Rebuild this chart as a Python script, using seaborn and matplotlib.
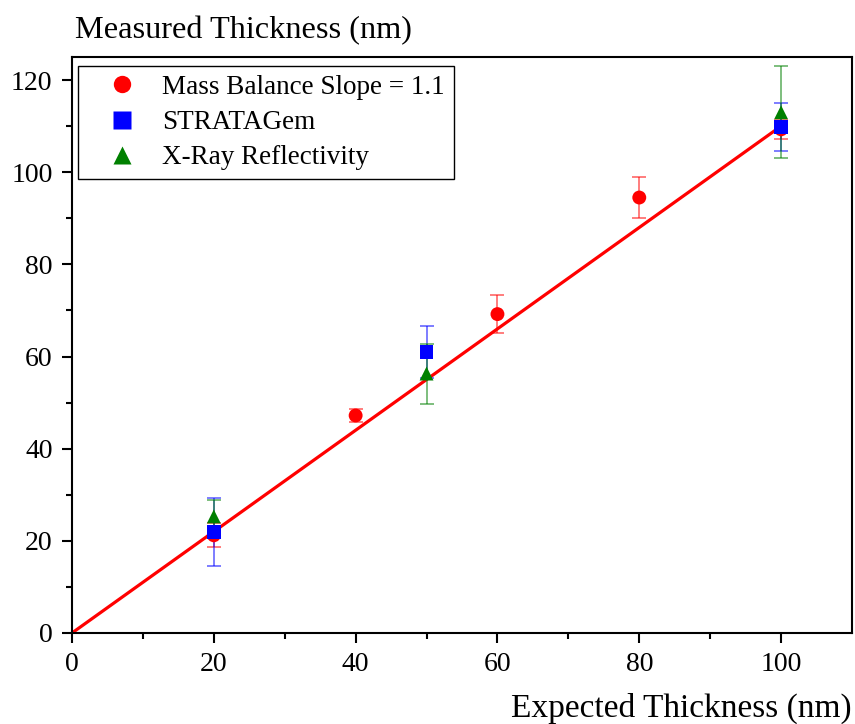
import matplotlib
matplotlib.use("Agg")
import matplotlib.pyplot as plt
import seaborn as sns
import pandas as pd
import numpy as np

# Data
mb_x = [20, 40, 60, 80, 100]
mb_y = [21.2, 47.2, 69.2, 94.5, 109.3]
mb_err = [2.6, 1.5, 4.2, 4.4, 2.0]

sg_x = [20, 50, 100]
sg_y = [22.0, 61.0, 109.8]
sg_err = [7.4, 5.7, 5.2]

xr_x = [20, 50, 100]
xr_y = [25.3, 56.3, 113.0]
xr_err = [3.6, 6.5, 10.0]

fit_x = [0, 100]
fit_slope = 1.1

labels = ["Mass Balance Slope = 1.1", "STRATAGem", "X-Ray Reflectivity"]
colors = ["#ff0000", "#0000ff", "#008000"]
markers = ["o", "s", "^"]

sns.set_theme(style="white")
plt.rcParams['font.family'] = ['Liberation Serif', 'DejaVu Serif']
plt.rcParams['text.color'] = 'black'
plt.rcParams['xtick.color'] = 'black'
plt.rcParams['ytick.color'] = 'black'
plt.rcParams['axes.labelcolor'] = 'black'

df = pd.concat([
    pd.DataFrame({"x": mb_x, "y": mb_y, "err": mb_err, "series": labels[0]}),
    pd.DataFrame({"x": sg_x, "y": sg_y, "err": sg_err, "series": labels[1]}),
    pd.DataFrame({"x": xr_x, "y": xr_y, "err": xr_err, "series": labels[2]}),
], ignore_index=True)

fig = plt.figure(figsize=(8.55, 7.24), dpi=100)
ax = fig.add_axes([0.0842, 0.1257, 0.9123, 0.7956])

# fit line
fx = np.array(fit_x, dtype=float)
sns.lineplot(x=fx, y=fit_slope * fx, ax=ax, color="#ff0000", lw=2.3, zorder=2, legend=False)

# error bars
for lab, c in zip(labels, colors):
    sub = df[df.series == lab]
    ax.errorbar(sub.x, sub.y, yerr=sub.err, fmt="none", ecolor=c, alpha=0.55,
                elinewidth=1.3, capsize=5, capthick=1.3, zorder=3)

sns.scatterplot(data=df, x="x", y="y", hue="series", style="series",
                palette=dict(zip(labels, colors)), markers=dict(zip(labels, markers)),
                s=100, edgecolor="none", ax=ax, zorder=4)

ax.set_xlim(0, 110)
ax.set_ylim(0, 125)
ax.set_xticks([0, 20, 40, 60, 80, 100])
ax.set_xticks(np.arange(10, 110, 20), minor=True)
ax.set_yticks([0, 20, 40, 60, 80, 100, 120])
ax.set_yticks(np.arange(10, 130, 20), minor=True)
ax.tick_params(axis="both", which="major", direction="out", length=7.5, width=1.5,
               labelsize=20, colors="black", bottom=True, left=True, pad=6.5)
ax.tick_params(axis="both", which="minor", direction="out", length=4, width=1.5,
               bottom=True, left=True)
for sp in ax.spines.values():
    sp.set_color("black")
    sp.set_linewidth(1.5)

ax.set_xlabel("")
ax.set_ylabel("")
fig.text(0.088, 0.958, "Measured Thickness (nm)", fontsize=23.3, ha="left", va="center")
fig.text(0.9965, 0.021, "Expected Thickness (nm)", fontsize=24, ha="right", va="center")

leg = ax.legend(loc="upper left", bbox_to_anchor=(0.0077, 0.984), borderaxespad=0,
                fontsize=19.5, frameon=True, fancybox=False, edgecolor="black",
                framealpha=1, handlelength=2.6, handletextpad=0.2, borderpad=0.32,
                labelspacing=0.38, markerscale=1.25)
leg.get_frame().set_linewidth(1.0)

fig.savefig("out.png", dpi=100)
